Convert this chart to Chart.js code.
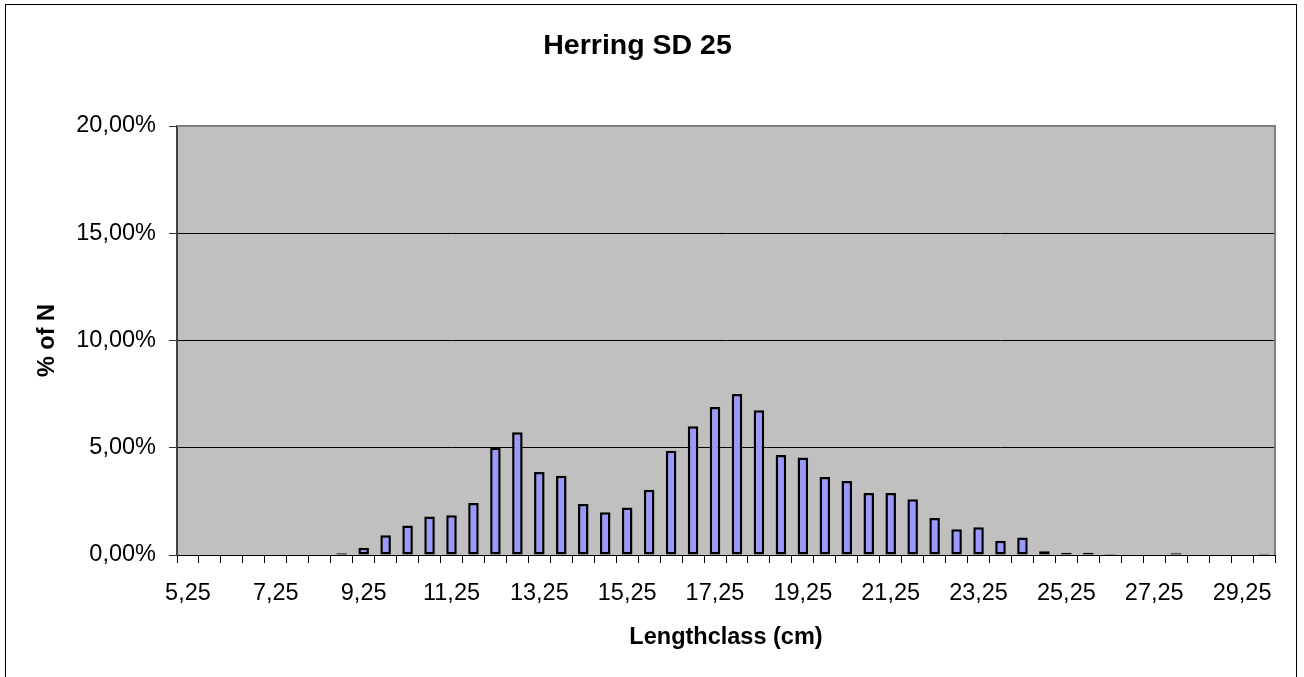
<!DOCTYPE html>
<html>
<head>
<meta charset="utf-8">
<script src="https://cdn.jsdelivr.net/npm/chart.js@4/dist/chart.umd.min.js"></script>
<style>
  html, body { margin: 0; padding: 0; background: #fff; }
  #wrap { width: 1304px; height: 677px; position: relative; }
</style>
</head>
<body>
<div id="wrap"><canvas id="c"></canvas></div>
<script>
const lengthClasses = [
  '5,25', '5,75', '6,25', '6,75', '7,25', '7,75', '8,25', '8,75', '9,25', '9,75',
  '10,25', '10,75', '11,25', '11,75', '12,25', '12,75', '13,25', '13,75', '14,25', '14,75',
  '15,25', '15,75', '16,25', '16,75', '17,25', '17,75', '18,25', '18,75', '19,25', '19,75',
  '20,25', '20,75', '21,25', '21,75', '22,25', '22,75', '23,25', '23,75', '24,25', '24,75',
  '25,25', '25,75', '26,25', '26,75', '27,25', '27,75', '28,25', '28,75', '29,25', '29,75',
];
const pctOfN = [
  0, 0, 0, 0, 0, 0, 0, 0.08, 0.34, 0.92,
  1.38, 1.79, 1.85, 2.42, 5.00, 5.72, 3.87, 3.70, 2.38, 1.99,
  2.22, 3.04, 4.86, 6.00, 6.90, 7.51, 6.75, 4.66, 4.54, 3.64,
  3.45, 2.89, 2.89, 2.60, 1.72, 1.20, 1.29, 0.67, 0.82, 0.17,
  0.11, 0.11, 0.05, 0, 0, 0.08, 0, 0, 0, 0.06,
];
const yTicks = [0, 5, 10, 15, 20];

const FONT = "'Liberation Sans', Arial, sans-serif";
const PLOT_BG = '#c0c0c0';
const BAR_FILL = '#9999ff';

// grey plot area + outer chart frame, like the Excel original
const plotFrame = {
  id: 'plotFrame',
  beforeDraw(chart) {
    const { ctx, chartArea: a } = chart;
    ctx.save();
    ctx.fillStyle = PLOT_BG;
    ctx.fillRect(a.left, a.top, a.right - a.left, a.bottom - a.top);
    ctx.restore();
  },
  afterDraw(chart) {
    const { ctx, chartArea: a } = chart;
    ctx.save();
    ctx.strokeStyle = '#808080';
    ctx.lineWidth = 2;
    ctx.beginPath();
    ctx.moveTo(a.left, a.top);
    ctx.lineTo(a.right, a.top);
    ctx.lineTo(a.right, a.bottom);
    ctx.stroke();
    ctx.strokeStyle = '#000';
    ctx.lineWidth = 1;
    ctx.strokeRect(5.5, 4.5, 1291, 680);
    ctx.restore();
  },
};

new Chart(document.getElementById('c'), {
  type: 'bar',
  data: {
    labels: lengthClasses,
    datasets: [{
      data: pctOfN,
      backgroundColor: BAR_FILL,
      borderColor: '#000',
      borderWidth: 2.5,
      borderSkipped: false,
      barPercentage: 0.48,
      categoryPercentage: 1,
    }],
  },
  options: {
    responsive: true,
    maintainAspectRatio: false,
    animation: false,
    layout: { padding: { left: 0, right: 29, top: 0, bottom: 0 } },
    plugins: {
      legend: { display: false },
      tooltip: { enabled: false },
      title: {
        display: true,
        text: 'Herring SD 25',
        color: '#000',
        font: { family: FONT, size: 28.5, weight: 'bold' },
        padding: { top: 29, bottom: 62.8 },
      },
    },
    scales: {
      x: {
        offset: true,
        afterFit: (s) => { s.height = 122; },
        grid: {
          offset: true,
          drawOnChartArea: false,
          tickLength: 8,
          color: '#000',
        },
        border: { color: '#000', width: 1 },
        ticks: {
          autoSkip: false,
          maxRotation: 0,
          minRotation: 0,
          padding: 16,
          color: '#000',
          font: { family: FONT, size: 23.5 },
          callback: (v, i) => (i % 4 === 0 ? lengthClasses[i] : ''),
        },
        title: {
          display: true,
          text: 'Lengthclass (cm)',
          color: '#000',
          font: { family: FONT, size: 23.5, weight: 'bold' },
          padding: { top: 0, bottom: 25 },
        },
      },
      y: {
        min: yTicks[0],
        max: yTicks[yTicks.length - 1],
        afterFit: (s) => { s.width = 177; },
        afterBuildTicks: (s) => { s.ticks = yTicks.map((v) => ({ value: v })); },
        grid: {
          color: (c) => (c.tick && c.tick.value === 20 ? 'rgba(0,0,0,0)' : '#000'),
          tickColor: '#333',
          tickLength: 8,
          lineWidth: 1,
        },
        border: { color: '#404040', width: 2 },
        ticks: {
          padding: 13,
          color: '#000',
          font: { family: FONT, size: 23.5 },
          callback: (v) => v.toFixed(2).replace('.', ',') + '%',
        },
        title: {
          display: true,
          text: '% of N',
          color: '#000',
          font: { family: FONT, size: 23.5, weight: 'bold' },
          padding: { top: 33, bottom: 0 },
        },
      },
    },
  },
  plugins: [plotFrame],
});
</script>
</body>
</html>
